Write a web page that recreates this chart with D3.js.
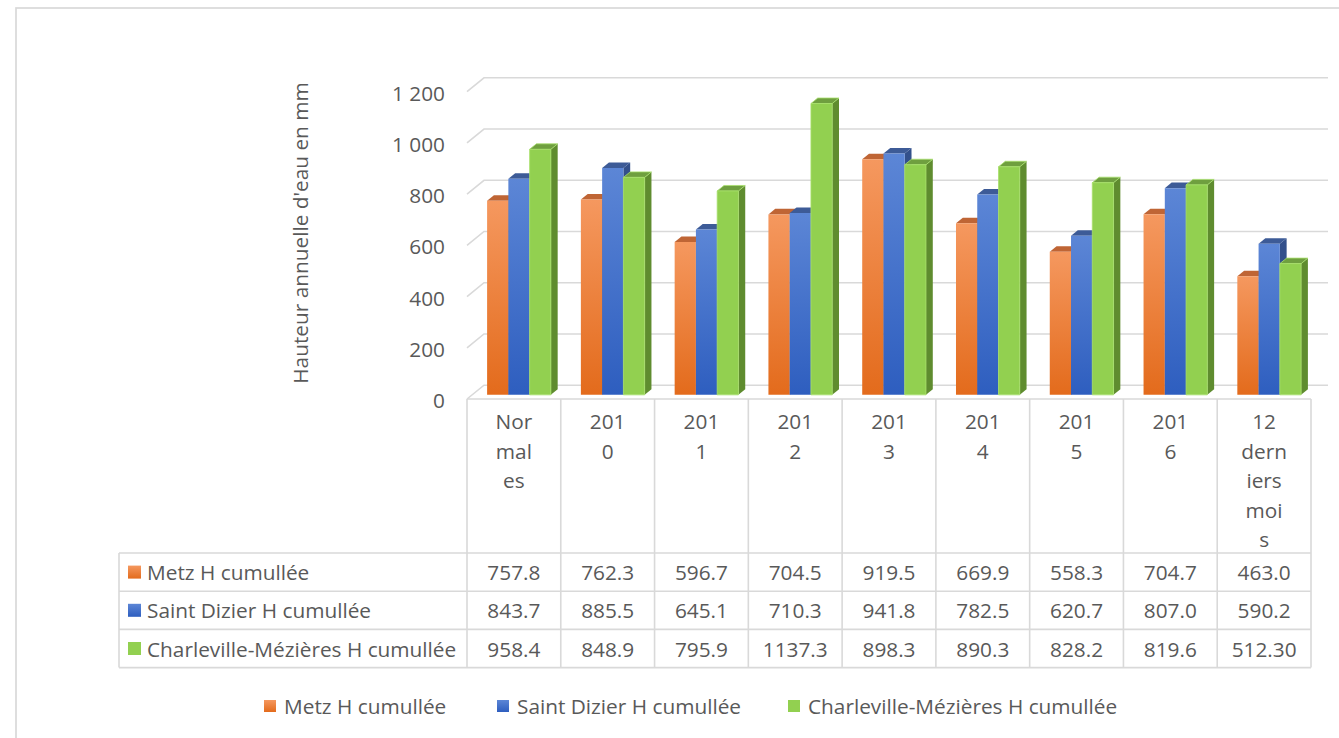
<!DOCTYPE html>
<html>
<head>
<meta charset="utf-8">
<script src="https://cdn.jsdelivr.net/npm/d3@7"></script>
<style>
  html, body { margin: 0; padding: 0; background: #fff; }
  svg { display: block; }
  text { font-family: "Open Sans", Lato, sans-serif; fill: #595959; }
</style>
</head>
<body>
<svg id="chart" width="1339" height="738"></svg>
<script>
// Annual rainfall (mm) by station
const categories = ["Normales", "2010", "2011", "2012", "2013", "2014", "2015", "2016", "12 derniers mois"];
const categoryLines = [["Nor", "mal", "es"], ["201", "0"], ["201", "1"], ["201", "2"], ["201", "3"],
                       ["201", "4"], ["201", "5"], ["201", "6"], ["12", "dern", "iers", "moi", "s"]];
const seriesNames = ["Metz H cumullée", "Saint Dizier H cumullée", "Charleville-Mézières H cumullée"];
const metz = [757.8, 762.3, 596.7, 704.5, 919.5, 669.9, 558.3, 704.7, 463.0];
const saintDizier = [843.7, 885.5, 645.1, 710.3, 941.8, 782.5, 620.7, 807.0, 590.2];
const charleville = [958.4, 848.9, 795.9, 1137.3, 898.3, 890.3, 828.2, 819.6, 512.30];
const shownDecimals = [
  [1, 1, 1, 1, 1, 1, 1, 1, 1],
  [1, 1, 1, 1, 1, 1, 1, 1, 1],
  [1, 1, 1, 1, 1, 1, 1, 1, 2]
];
const yTicks = [0, 200, 400, 600, 800, 1000, 1200];
const yTitle = "Hauteur annuelle d'eau en mm";

const seriesValues = [metz, saintDizier, charleville];
const palette = [
  { top: "#f5985f", bottom: "#e36b1c", cap: "#bf6535", side: "#a9531f", edge: "none" },
  { top: "#5c86d6", bottom: "#2e5ebf", cap: "#3d5b97", side: "#33508b", edge: "none" },
  { top: "#92d050", bottom: "#92d050", cap: "#6f9f3f", side: "#5f8c2f", edge: "#a8e06c" }
];

const svg = d3.select("#chart");
const gridColor = "#d9d9d9";
const fontSize = 20.8;

// outer chart frame
svg.append("rect").attr("x", 16).attr("y", 8).attr("width", 1400).attr("height", 800)
  .attr("fill", "none").attr("stroke", gridColor).attr("stroke-width", 1.7);

// plot geometry: front plane + oblique depth
const x = d3.scaleBand().domain(categories).range([467, 1311]);
const y = d3.scaleLinear().domain([0, 1200]).range([399, 91.6]);
const depthX = 17, depthY = 13.8;
const P = (px, v, z) => [px + depthX * z, y(v) - depthY * z];
const xs = d3.scaleBand().domain(seriesNames).range([15, x.bandwidth() - 15]);
const z0 = 0.3, z1 = 0.7;

const fmt = d3.formatLocale({ decimal: ",", thousands: " ", grouping: [3], currency: ["", " €"] }).format(",d");

// gridlines: left wall edge + back wall
const grid = svg.append("g");
yTicks.forEach(v => {
  const a = P(x.range()[0], v, 0), b = P(x.range()[0], v, 1), c = P(x.range()[1], v, 1);
  grid.append("path").attr("d", d3.line()([a, b, c]))
    .attr("fill", "none").attr("stroke", gridColor).attr("stroke-width", 1.6);
});

// y-axis tick labels
svg.append("g").selectAll("text").data(yTicks).join("text")
  .attr("x", 445).attr("y", d => y(d) + 1)
  .attr("text-anchor", "end").attr("dominant-baseline", "central")
  .attr("font-size", fontSize).text(d => fmt(d));

// y-axis title
svg.append("text").attr("transform", "translate(300,233) rotate(-90)")
  .attr("text-anchor", "middle").attr("dominant-baseline", "central")
  .attr("font-size", fontSize).text(yTitle);

// gradients for bar front faces
const defs = svg.append("defs");
palette.forEach((p, i) => {
  const g = defs.append("linearGradient").attr("id", "grad" + i)
    .attr("x1", 0).attr("y1", 0).attr("x2", 0).attr("y2", 1);
  g.append("stop").attr("offset", "0%").attr("stop-color", p.top);
  g.append("stop").attr("offset", "100%").attr("stop-color", p.bottom);
});

// 3D bars, drawn left to right so neighbours hide side faces
const bars = svg.append("g");
categories.forEach((cat, ci) => {
  seriesNames.forEach((s, si) => {
    const v = seriesValues[si][ci];
    const xa = x(cat) + xs(s), xb = xa + xs.bandwidth();
    const p = palette[si];
    const g = bars.append("g");
    const front = [P(xa, 0, z0), P(xb, 0, z0), P(xb, v, z0), P(xa, v, z0)];
    const top = [P(xa, v, z0), P(xb, v, z0), P(xb, v, z1), P(xa, v, z1)];
    const side = [P(xb, 0, z0), P(xb, v, z0), P(xb, v, z1), P(xb, 0, z1)];
    const poly = pts => "M" + pts.map(q => q.join(",")).join("L") + "Z";
    g.append("path").attr("d", poly(side)).attr("fill", p.side);
    g.append("path").attr("d", poly(top)).attr("fill", p.cap)
      .attr("stroke", p.edge).attr("stroke-width", 0.8);
    g.append("path").attr("d", poly(front)).attr("fill", `url(#grad${si})`)
      .attr("stroke", p.edge).attr("stroke-width", 0.8);
  });
});

// data table
const table = svg.append("g");
const tableLeft = 119, headerTop = 399, headerBottom = 553, rowH = 38.2;
const right = x.range()[1];
const line = (x1, y1, x2, y2) => table.append("line")
  .attr("x1", x1).attr("y1", y1).attr("x2", x2).attr("y2", y2)
  .attr("stroke", gridColor).attr("stroke-width", 1.6);

line(x.range()[0], headerTop, right, headerTop);
categories.forEach(c => line(x(c), headerTop, x(c), headerBottom + 3 * rowH));
line(right, headerTop, right, headerBottom + 3 * rowH);
for (let r = 0; r <= 3; r++) line(tableLeft, headerBottom + r * rowH, right, headerBottom + r * rowH);
line(tableLeft, headerBottom, tableLeft, headerBottom + 3 * rowH);

// category headers (wrapped)
categories.forEach((c, ci) => {
  const t = table.append("text").attr("text-anchor", "middle").attr("font-size", fontSize);
  categoryLines[ci].forEach((ln, li) => {
    t.append("tspan").attr("x", x(c) + x.bandwidth() / 2).attr("y", 421 + li * 29.5)
      .attr("dominant-baseline", "central").text(ln);
  });
});

// rows: legend key, series name, values
seriesNames.forEach((s, si) => {
  const cy = headerBottom + si * rowH + rowH / 2;
  table.append("rect").attr("x", 128).attr("y", cy - 6.5).attr("width", 13).attr("height", 13)
    .attr("fill", `url(#grad${si})`);
  table.append("text").attr("x", 147).attr("y", cy).attr("dominant-baseline", "central")
    .attr("font-size", fontSize).text(s);
  categories.forEach((c, ci) => {
    table.append("text").attr("x", x(c) + x.bandwidth() / 2).attr("y", cy)
      .attr("text-anchor", "middle").attr("dominant-baseline", "central").attr("font-size", fontSize)
      .text(seriesValues[si][ci].toFixed(shownDecimals[si][ci]));
  });
});

// legend
const legendX = [264, 497, 788];
const legend = svg.append("g");
seriesNames.forEach((s, si) => {
  legend.append("rect").attr("x", legendX[si]).attr("y", 700).attr("width", 12).attr("height", 12)
    .attr("fill", `url(#grad${si})`);
  legend.append("text").attr("x", legendX[si] + 20).attr("y", 706).attr("dominant-baseline", "central")
    .attr("font-size", fontSize).text(s);
});
</script>
</body>
</html>
